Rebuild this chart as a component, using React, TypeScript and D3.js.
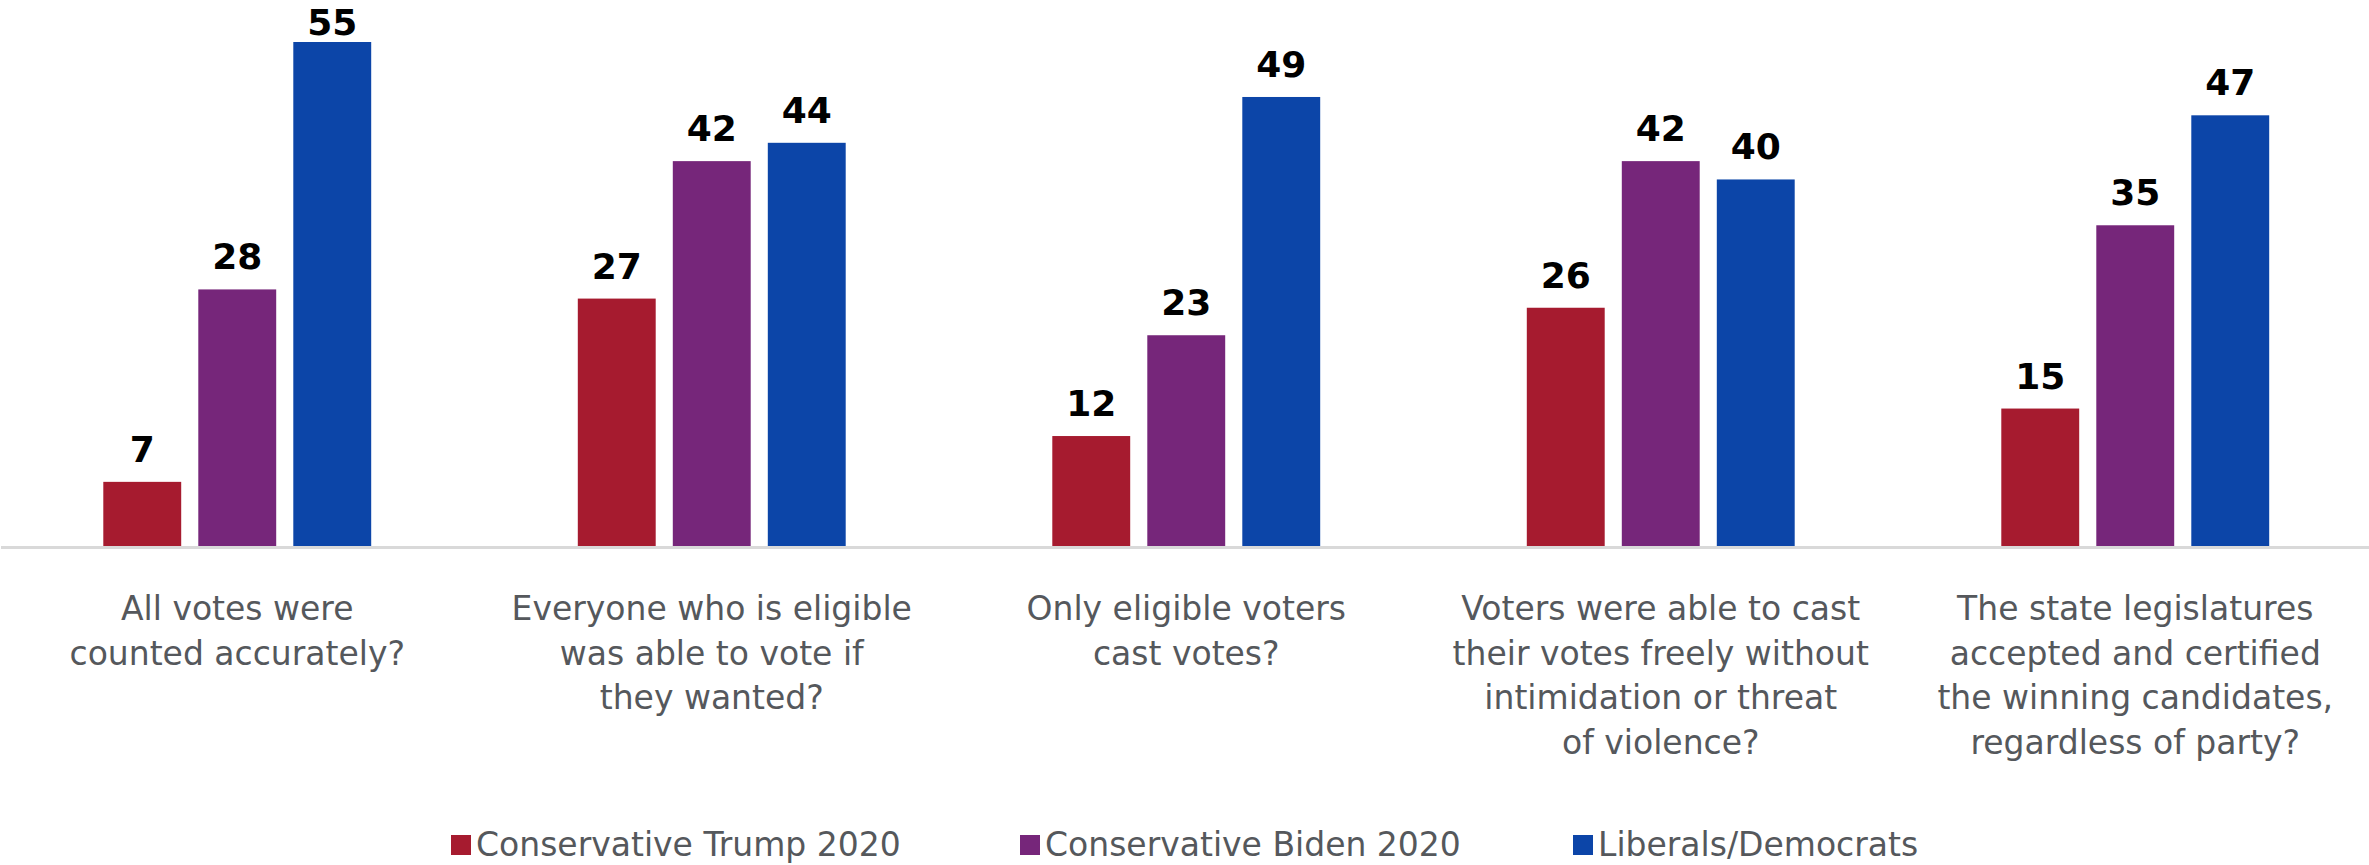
import React from "react";
import * as d3 from "d3";

const categories: string[][] = [
  ["All votes were", "counted accurately?"],
  ["Everyone who is eligible", "was able to vote if", "they wanted?"],
  ["Only eligible voters", "cast votes?"],
  ["Voters were able to cast", "their votes freely without", "intimidation or threat", "of violence?"],
  ["The state legislatures", "accepted and certified", "the winning candidates,", "regardless of party?"],
];
const seriesNames = ["Conservative Trump 2020", "Conservative Biden 2020", "Liberals/Democrats"];
const trump2020 = [7, 27, 12, 26, 15];
const biden2020 = [28, 42, 23, 42, 35];
const liberals = [55, 44, 49, 40, 47];
const seriesValues = [trump2020, biden2020, liberals];
const colors = ["#a61b2f", "#76267a", "#0c45a8"];

const W = 2369;
const H = 865;
const FONT = "'DejaVu Sans', Verdana, sans-serif";

export default function App() {
  const keys = categories.map((_, i) => String(i));
  const x0 = d3.scaleBand<string>().domain(keys).range([0, 2372.5]).padding(0);
  const x1 = d3
    .scaleBand<string>()
    .domain(seriesNames)
    .range([-142.5, 142.5])
    .paddingInner(0.18)
    .paddingOuter(0.09);
  const y = d3.scaleLinear().domain([0, 55]).range([546, 42]);

  const legendX = [451, 1020, 1573];

  return (
    <svg
      width={W}
      height={H}
      style={{ position: "absolute", left: 0, top: 0, background: "#fff" }}
      fontFamily={FONT}
    >
      {keys.map((k, ci) => {
        const cx = (x0(k) as number) + x0.bandwidth() / 2;
        return (
          <g key={k}>
            {seriesNames.map((s, si) => {
              const v = seriesValues[si][ci];
              const bx = cx + (x1(s) as number);
              const top = y(v);
              return (
                <g key={s}>
                  <rect x={bx} y={top} width={x1.bandwidth()} height={y(0) - top} fill={colors[si]} />
                  <text
                    x={bx + x1.bandwidth() / 2}
                    y={Math.max(top - 20, 35)}
                    textAnchor="middle"
                    fontSize={36}
                    fontWeight="bold"
                    fill="#000"
                  >
                    {v}
                  </text>
                </g>
              );
            })}
            <text textAnchor="middle" fontSize={33} fill="#55585c">
              {categories[ci].map((line, li) => (
                <tspan key={li} x={cx} y={620 + li * 44.5}>
                  {line}
                </tspan>
              ))}
            </text>
          </g>
        );
      })}
      <line x1={1} x2={W} y1={547.5} y2={547.5} stroke="#d9d9d9" strokeWidth={3} />
      {seriesNames.map((s, si) => (
        <g key={s}>
          <rect x={legendX[si]} y={835} width={20} height={20} fill={colors[si]} />
          <text x={legendX[si] + 25} y={856} fontSize={33} fill="#55585c">
            {s}
          </text>
        </g>
      ))}
    </svg>
  );
}
